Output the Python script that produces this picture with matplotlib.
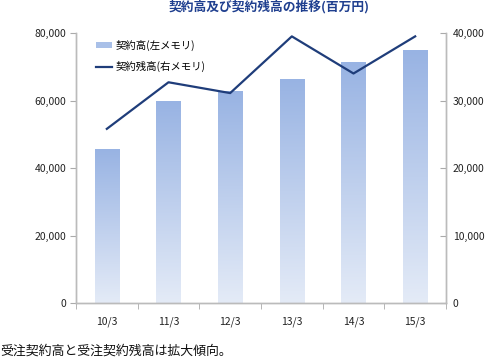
import numpy as np
import matplotlib.pyplot as plt
from matplotlib.colors import LinearSegmentedColormap
from matplotlib.patches import Patch
from matplotlib.lines import Line2D
from matplotlib.ticker import FuncFormatter

plt.rcParams['font.family'] = ['Noto Sans CJK JP', 'DejaVu Sans']

categories = ['10/3', '11/3', '12/3', '13/3', '14/3', '15/3']
contracts = [45600, 59800, 62800, 66300, 71300, 74900]      # 契約高 (left)
backlog = [25800, 32700, 31100, 39500, 34000, 39500]        # 契約残高 (right)

fig = plt.figure(figsize=(4.93, 3.57), dpi=100)
ax = fig.add_axes([76/493, 54/357, 370/493, 270/357])
ax2 = ax.twinx()

x = np.arange(len(categories))
w = 0.39
cmap = LinearSegmentedColormap.from_list('g', ['#e4ebf7', '#98b3e3'])
bars = ax.bar(x, contracts, width=w, color='none', zorder=2)
for b in bars:
    grad = np.linspace(0, 1, 256).reshape(-1, 1)
    ax.imshow(grad, cmap=cmap, origin='lower', aspect='auto',
              extent=[b.get_x(), b.get_x() + b.get_width(), 0, b.get_height()], zorder=2)

ax2.plot(x, backlog, color='#1f3d7a', lw=1.6, zorder=3)

ax.set_xlim(-0.5, len(categories) - 0.5)
ax.set_ylim(0, 80000)
ax2.set_ylim(0, 40000)
ax.set_yticks(np.arange(0, 80001, 20000))
ax2.set_yticks(np.arange(0, 40001, 10000))
fmt = FuncFormatter(lambda v, p: f'{int(v):,}')
ax.yaxis.set_major_formatter(fmt)
ax2.yaxis.set_major_formatter(fmt)

ax.set_xticks(x)
ax.set_xticklabels(categories)
ax.set_xticks(np.arange(-0.5, len(categories)), minor=True)
ax.tick_params(axis='x', which='major', length=0, pad=10, labelsize=7.5, colors='#222222')
ax.tick_params(axis='x', which='minor', length=4, color='#aaaaaa')
ax.tick_params(axis='y', length=4, color='#aaaaaa', labelsize=7.5, labelcolor='#222222', pad=3)
ax2.tick_params(axis='y', direction='in', length=4, color='#aaaaaa', labelsize=7.5, labelcolor='#222222', pad=5)

for a in (ax, ax2):
    a.spines['top'].set_visible(False)
    for s in ('left', 'right', 'bottom'):
        a.spines[s].set_color('#bbbbbb')
        a.spines[s].set_linewidth(1)

handles = [Patch(facecolor='#a9c0e8', edgecolor='none'),
           Line2D([0], [0], color='#1f3d7a', lw=1.6)]
ax.legend(handles, ['契約高(左メモリ)', '契約残高(右メモリ)'], loc='upper left',
          bbox_to_anchor=(0.03, 1.01), frameon=False, fontsize=7.5,
          handlelength=1.5, handleheight=0.6, handletextpad=0.3, labelspacing=1.0)

fig.text(269/493, 1 - 7/357, '契約高及び契約残高の推移(百万円)', ha='center', va='center',
         fontsize=9.2, fontweight='bold', color='#1f3f8f')
fig.text(0.0, 1 - 351/357, '受注契約高と受注契約残高は拡大傾向。', ha='left', va='center',
         fontsize=9.3, color='#111111')

fig.savefig('out.png', dpi=100)
